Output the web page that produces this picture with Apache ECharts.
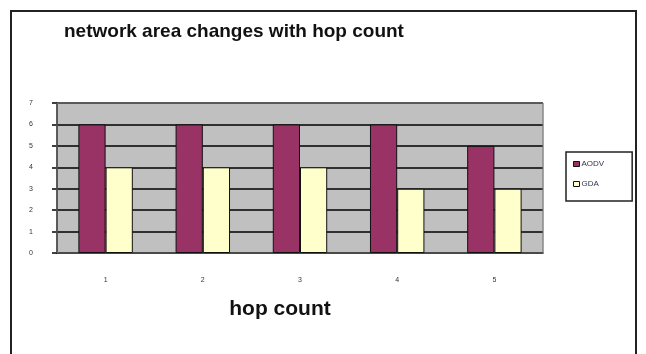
<!DOCTYPE html>
<html><head><meta charset="utf-8">
<script src="https://cdn.jsdelivr.net/npm/echarts@6/dist/echarts.min.js"></script>
<style>html,body{margin:0;padding:0;background:#fff}#c{width:646px;height:354px}</style>
</head><body><div id="c"></div>
<script>
const categories = ['1', '2', '3', '4', '5'];
const aodv = [6, 6, 6, 6, 5];
const gda = [4, 4, 4, 3, 3];
const seriesNames = ['AODV', 'GDA'];

const chart = echarts.init(document.getElementById('c'));
chart.setOption({
  animation: false,
  backgroundColor: '#fff',
  title: {
    text: 'network area changes with hop count',
    left: 59, top: 17,
    textStyle: { fontFamily: 'Liberation Sans', fontWeight: 'bold', fontSize: 19, color: '#111' }
  },
  graphic: [
    { type: 'rect', shape: { x: 11, y: 11, width: 625, height: 360 },
      style: { fill: 'none', stroke: '#222', lineWidth: 2 }, z: 100 },
    { type: 'rect', shape: { x: 57, y: 103, width: 486, height: 150 },
      style: { fill: 'none', stroke: '#888', lineWidth: 1 }, z: 1 }
  ],
  legend: {
    orient: 'vertical', left: 566, top: 152,
    data: seriesNames,
    icon: 'rect',
    itemWidth: 6, itemHeight: 5, itemGap: 12,
    padding: [8, 28, 13, 7],
    borderColor: '#222', borderWidth: 1.5,
    itemStyle: { borderColor: '#111', borderWidth: 1 },
    textStyle: { fontFamily: 'Liberation Sans', fontSize: 8, color: '#335', padding: [0, 0, 0, -3] }
  },
  grid: { left: 57, top: 103, width: 486, height: 150, show: true, backgroundColor: '#c0c0c0', borderColor: '#888', borderWidth: 1 },
  xAxis: {
    type: 'category', data: categories,
    name: 'hop count', nameLocation: 'middle', nameGap: 46,
    nameTextStyle: { fontFamily: 'Liberation Sans', fontWeight: 'bold', fontSize: 21, color: '#111', padding: [0, 40, 0, 0] },
    axisLine: { lineStyle: { color: '#000', width: 1.5 } },
    axisTick: { length: 4, lineStyle: { color: '#000', width: 1.5 } },
    axisLabel: { margin: 24, fontSize: 7, color: '#333', fontFamily: 'Liberation Sans' }
  },
  yAxis: {
    type: 'value', min: 0, max: 7, interval: 1,
    axisLine: { show: true, lineStyle: { color: '#000', width: 1.5 } },
    axisTick: { show: true, length: 5, lineStyle: { color: '#000', width: 1.5 } },
    axisLabel: { margin: 24, fontSize: 7, color: '#333', fontFamily: 'Liberation Sans' },
    splitLine: { lineStyle: { color: '#000', width: 1.5 } }
  },
  series: [
    { name: seriesNames[0], type: 'bar', data: aodv, barGap: '0%', barCategoryGap: '44%',
      itemStyle: { color: '#993366', borderColor: '#111', borderWidth: 1 } },
    { name: seriesNames[1], type: 'bar', data: gda,
      itemStyle: { color: '#ffffcc', borderColor: '#111', borderWidth: 1 } }
  ]
});
</script></body></html>
